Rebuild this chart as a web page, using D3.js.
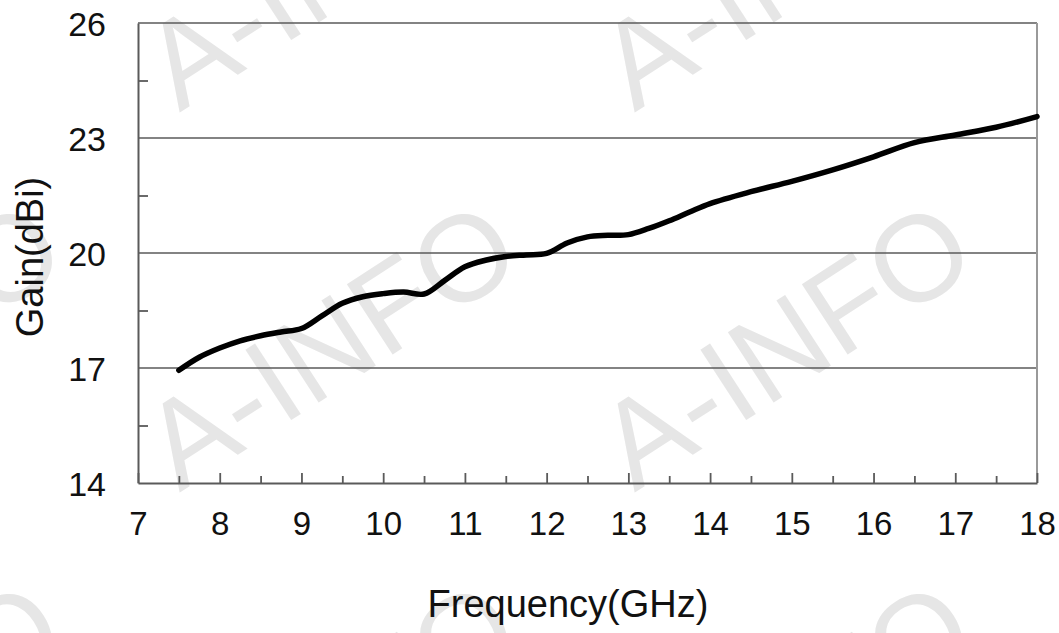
<!DOCTYPE html>
<html>
<head>
<meta charset="utf-8">
<script src="https://cdn.jsdelivr.net/npm/d3@7"></script>
<style>
  html, body { margin: 0; padding: 0; background: #fff; }
  svg { display: block; font-family: "Liberation Sans", Arial, sans-serif; }
</style>
</head>
<body>
<svg id="chart" width="1059" height="633"></svg>
<script>
// values
const freqGHz = [7.5, 7.75, 8, 8.25, 8.5, 8.75, 9, 9.25, 9.5, 9.75, 10, 10.25, 10.5, 10.75,
  11, 11.25, 11.5, 11.75, 12, 12.25, 12.5, 12.75, 13, 13.25, 13.5, 13.75, 14, 14.5, 15,
  15.5, 16, 16.5, 17, 17.5, 18];
const gainDbi = [16.94, 17.28, 17.52, 17.71, 17.84, 17.94, 18.03, 18.36, 18.69, 18.86, 18.94, 18.98, 18.93, 19.28,
  19.64, 19.81, 19.91, 19.95, 19.99, 20.26, 20.42, 20.46, 20.48, 20.64, 20.84, 21.07, 21.29, 21.60, 21.87,
  22.17, 22.51, 22.88, 23.08, 23.28, 23.56];
const xTickLabels = [7, 8, 9, 10, 11, 12, 13, 14, 15, 16, 17, 18];
const yTickLabels = [14, 17, 20, 23, 26];
const watermarkText = 'A-INFO';

const svg = d3.select('#chart');
const plotLeft = 138, plotRight = 1037, plotTop = 23, plotBottom = 483;
const axisColor = '#5a5a5a';

const x = d3.scaleLinear().domain([7, 18]).range([plotLeft, plotRight]);
const y = d3.scaleLinear().domain([14, 26]).range([plotBottom, plotTop]);

// watermark tiles, drawn first so they sit under everything
const marks = svg.append('g').attr('fill', '#e6e6e6')
  .attr('font-size', 122).attr('font-family', '"Liberation Sans", Arial, sans-serif');
[-35, 345, 725].forEach(ty => {
  [-125, 330, 785].forEach(tx => {
    marks.append('text')
      .attr('transform', `translate(${tx},${ty}) rotate(-33)`)
      .attr('text-anchor', 'middle')
      .attr('dominant-baseline', 'central')
      .text(watermarkText);
  });
});

// horizontal gridlines
svg.append('g').selectAll('line')
  .data([17, 20, 23, 26])
  .join('line')
  .attr('x1', plotLeft).attr('x2', plotRight)
  .attr('y1', d => y(d)).attr('y2', d => y(d))
  .attr('stroke', axisColor).attr('stroke-width', 1.6);

// right border is lighter
svg.append('line')
  .attr('x1', plotRight).attr('x2', plotRight).attr('y1', plotTop).attr('y2', plotBottom)
  .attr('stroke', '#9a9a9a').attr('stroke-width', 2);

// x axis, ticks pointing inward
const xAxis = d3.axisBottom(x)
  .tickValues(d3.range(7, 18.01, 0.5))
  .tickSizeInner(-10).tickSizeOuter(0)
  .tickFormat(d => xTickLabels.includes(d) ? d : '');
const gx = svg.append('g').attr('transform', `translate(0,${plotBottom})`).call(xAxis);
gx.select('.domain').attr('stroke', axisColor).attr('stroke-width', 2);
gx.selectAll('.tick line')
  .attr('stroke', axisColor).attr('stroke-width', 1.8)
  .attr('y2', d => Number.isInteger(d) ? -10 : -7);
gx.selectAll('.tick text')
  .attr('y', 52).attr('dy', 0)
  .attr('font-size', 33).attr('fill', '#111')
  .attr('font-family', '"Liberation Sans", Arial, sans-serif');

// y axis, minor ticks inward, labels at 3 dB steps
const yAxis = d3.axisLeft(y)
  .tickValues(d3.range(14, 26.01, 1.5))
  .tickSizeInner(-10).tickSizeOuter(0)
  .tickFormat(d => yTickLabels.includes(d) ? d : '');
const gy = svg.append('g').attr('transform', `translate(${plotLeft},0)`).call(yAxis);
gy.select('.domain').attr('stroke', axisColor).attr('stroke-width', 2);
gy.selectAll('.tick line')
  .attr('stroke', axisColor).attr('stroke-width', 1.8)
  .attr('x2', d => yTickLabels.includes(d) ? 0 : 10);
gy.selectAll('.tick text')
  .attr('x', -32).attr('dy', '0.36em')
  .attr('font-size', 34).attr('fill', '#111')
  .attr('font-family', '"Liberation Sans", Arial, sans-serif');

// gain curve
const line = d3.line()
  .x((d, i) => x(freqGHz[i]))
  .y(d => y(d))
  .curve(d3.curveCatmullRom.alpha(0.5));
svg.append('path')
  .datum(gainDbi)
  .attr('d', line)
  .attr('fill', 'none')
  .attr('stroke', '#000')
  .attr('stroke-width', 5.5)
  .attr('stroke-linecap', 'round');

// axis titles
svg.append('text')
  .attr('x', 568).attr('y', 617)
  .attr('text-anchor', 'middle')
  .attr('font-size', 38).attr('fill', '#111')
  .text('Frequency(GHz)');
svg.append('text')
  .attr('transform', 'translate(43,257) rotate(-90)')
  .attr('text-anchor', 'middle')
  .attr('font-size', 38).attr('fill', '#111')
  .text('Gain(dBi)');
</script>
</body>
</html>
